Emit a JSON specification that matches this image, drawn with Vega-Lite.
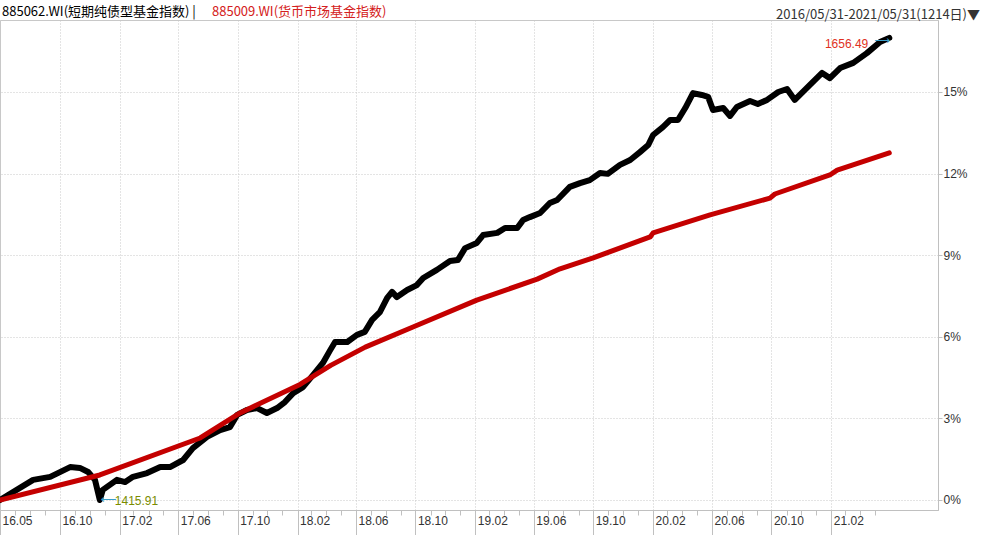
{
  "$schema": "https://vega.github.io/schema/vega-lite/v6.json",
  "width": 938,
  "height": 490,
  "autosize": {"type": "none"},
  "padding": {"left": 0, "top": 20, "right": 45, "bottom": 25},
  "background": "white",
  "config": {"view": {"stroke": "#c8c8c8"}, "font": "Liberation Sans"},
  "title": {"text": "2016/05/31-2021/05/31(1214日)▼", "anchor": "end", "orient": "top", "frame": "group", "dx": 42, "dy": 21, "offset": 4, "fontSize": 13, "fontWeight": "normal", "font": "Noto Sans CJK SC", "color": "#333333"},
  "data": {"values": [
    {"series": "885062.WI(短期纯债型基金指数)", "date": "2016-05-31", "pct": 0.0},
    {"series": "885062.WI(短期纯债型基金指数)", "date": "2016-08-07", "pct": 0.74},
    {"series": "885062.WI(短期纯债型基金指数)", "date": "2016-09-11", "pct": 0.85},
    {"series": "885062.WI(短期纯债型基金指数)", "date": "2016-10-22", "pct": 1.21},
    {"series": "885062.WI(短期纯债型基金指数)", "date": "2016-11-11", "pct": 1.18},
    {"series": "885062.WI(短期纯债型基金指数)", "date": "2016-11-28", "pct": 1.03},
    {"series": "885062.WI(短期纯债型基金指数)", "date": "2016-12-12", "pct": 0.74},
    {"series": "885062.WI(短期纯债型基金指数)", "date": "2016-12-22", "pct": 0.0, "note": "1415.91"},
    {"series": "885062.WI(短期纯债型基金指数)", "date": "2016-12-28", "pct": 0.37},
    {"series": "885062.WI(短期纯债型基金指数)", "date": "2017-01-26", "pct": 0.74},
    {"series": "885062.WI(短期纯债型基金指数)", "date": "2017-02-12", "pct": 0.66},
    {"series": "885062.WI(短期纯债型基金指数)", "date": "2017-02-28", "pct": 0.85},
    {"series": "885062.WI(短期纯债型基金指数)", "date": "2017-03-29", "pct": 0.99},
    {"series": "885062.WI(短期纯债型基金指数)", "date": "2017-04-25", "pct": 1.21},
    {"series": "885062.WI(短期纯债型基金指数)", "date": "2017-05-15", "pct": 1.21},
    {"series": "885062.WI(短期纯债型基金指数)", "date": "2017-06-11", "pct": 1.47},
    {"series": "885062.WI(短期纯债型基金指数)", "date": "2017-07-01", "pct": 1.91},
    {"series": "885062.WI(短期纯债型基金指数)", "date": "2017-07-30", "pct": 2.32},
    {"series": "885062.WI(短期纯债型基金指数)", "date": "2017-08-26", "pct": 2.57},
    {"series": "885062.WI(短期纯债型基金指数)", "date": "2017-09-15", "pct": 2.68},
    {"series": "885062.WI(短期纯债型基金指数)", "date": "2017-09-30", "pct": 3.13},
    {"series": "885062.WI(短期纯债型基金指数)", "date": "2017-10-20", "pct": 3.31},
    {"series": "885062.WI(短期纯债型基金指数)", "date": "2017-11-10", "pct": 3.38},
    {"series": "885062.WI(短期纯债型基金指数)", "date": "2017-11-30", "pct": 3.2},
    {"series": "885062.WI(短期纯债型基金指数)", "date": "2017-12-21", "pct": 3.38},
    {"series": "885062.WI(短期纯债型基金指数)", "date": "2018-01-06", "pct": 3.6},
    {"series": "885062.WI(短期纯债型基金指数)", "date": "2018-01-23", "pct": 3.93},
    {"series": "885062.WI(短期纯债型基金指数)", "date": "2018-02-12", "pct": 4.15},
    {"series": "885062.WI(短期纯债型基金指数)", "date": "2018-03-05", "pct": 4.6},
    {"series": "885062.WI(短期纯债型基金指数)", "date": "2018-03-25", "pct": 5.04},
    {"series": "885062.WI(短期纯债型基金指数)", "date": "2018-04-09", "pct": 5.51},
    {"series": "885062.WI(短期纯债型基金指数)", "date": "2018-04-19", "pct": 5.81},
    {"series": "885062.WI(短期纯债型基金指数)", "date": "2018-05-14", "pct": 5.81},
    {"series": "885062.WI(短期纯债型基金指数)", "date": "2018-06-03", "pct": 6.07},
    {"series": "885062.WI(短期纯债型基金指数)", "date": "2018-06-19", "pct": 6.18},
    {"series": "885062.WI(短期纯债型基金指数)", "date": "2018-07-04", "pct": 6.62},
    {"series": "885062.WI(短期纯债型基金指数)", "date": "2018-07-20", "pct": 6.91},
    {"series": "885062.WI(短期纯债型基金指数)", "date": "2018-08-04", "pct": 7.43},
    {"series": "885062.WI(短期纯债型基金指数)", "date": "2018-08-14", "pct": 7.65},
    {"series": "885062.WI(短期纯债型基金指数)", "date": "2018-08-24", "pct": 7.46},
    {"series": "885062.WI(短期纯债型基金指数)", "date": "2018-09-14", "pct": 7.72},
    {"series": "885062.WI(短期纯债型基金指数)", "date": "2018-10-04", "pct": 7.9},
    {"series": "885062.WI(短期纯债型基金指数)", "date": "2018-10-17", "pct": 8.16},
    {"series": "885062.WI(短期纯债型基金指数)", "date": "2018-11-14", "pct": 8.46},
    {"series": "885062.WI(短期纯债型基金指数)", "date": "2018-12-11", "pct": 8.79},
    {"series": "885062.WI(短期纯债型基金指数)", "date": "2018-12-27", "pct": 8.82},
    {"series": "885062.WI(短期纯债型基金指数)", "date": "2019-01-11", "pct": 9.26},
    {"series": "885062.WI(短期纯债型基金指数)", "date": "2019-02-04", "pct": 9.45},
    {"series": "885062.WI(短期纯债型基金指数)", "date": "2019-02-17", "pct": 9.74},
    {"series": "885062.WI(短期纯债型基金指数)", "date": "2019-03-18", "pct": 9.82},
    {"series": "885062.WI(短期纯债型基金指数)", "date": "2019-04-03", "pct": 10.0},
    {"series": "885062.WI(短期纯债型基金指数)", "date": "2019-04-28", "pct": 10.0},
    {"series": "885062.WI(短期纯债型基金指数)", "date": "2019-05-10", "pct": 10.29},
    {"series": "885062.WI(短期纯债型基金指数)", "date": "2019-05-24", "pct": 10.4},
    {"series": "885062.WI(短期纯债型基金指数)", "date": "2019-06-14", "pct": 10.55},
    {"series": "885062.WI(短期纯债型基金指数)", "date": "2019-07-04", "pct": 10.92},
    {"series": "885062.WI(短期纯债型基金指数)", "date": "2019-07-19", "pct": 11.03},
    {"series": "885062.WI(短期纯债型基金指数)", "date": "2019-08-14", "pct": 11.51},
    {"series": "885062.WI(短期纯债型基金指数)", "date": "2019-09-04", "pct": 11.65},
    {"series": "885062.WI(短期纯债型基金指数)", "date": "2019-09-24", "pct": 11.76},
    {"series": "885062.WI(短期纯债型基金指数)", "date": "2019-10-15", "pct": 12.02},
    {"series": "885062.WI(短期纯债型基金指数)", "date": "2019-10-31", "pct": 11.99},
    {"series": "885062.WI(短期纯债型基金指数)", "date": "2019-11-25", "pct": 12.32},
    {"series": "885062.WI(短期纯债型基金指数)", "date": "2019-12-16", "pct": 12.5},
    {"series": "885062.WI(短期纯债型基金指数)", "date": "2020-01-05", "pct": 12.79},
    {"series": "885062.WI(短期纯债型基金指数)", "date": "2020-01-22", "pct": 13.05},
    {"series": "885062.WI(短期纯债型基金指数)", "date": "2020-02-01", "pct": 13.42},
    {"series": "885062.WI(短期纯债型基金指数)", "date": "2020-02-21", "pct": 13.71},
    {"series": "885062.WI(短期纯债型基金指数)", "date": "2020-03-07", "pct": 13.97},
    {"series": "885062.WI(短期纯债型基金指数)", "date": "2020-03-23", "pct": 13.97},
    {"series": "885062.WI(短期纯债型基金指数)", "date": "2020-04-07", "pct": 14.41},
    {"series": "885062.WI(短期纯债型基金指数)", "date": "2020-04-23", "pct": 14.96},
    {"series": "885062.WI(短期纯债型基金指数)", "date": "2020-05-11", "pct": 14.89},
    {"series": "885062.WI(短期纯债型基金指数)", "date": "2020-05-24", "pct": 14.82},
    {"series": "885062.WI(短期纯债型基金指数)", "date": "2020-06-03", "pct": 14.34},
    {"series": "885062.WI(短期纯债型基金指数)", "date": "2020-06-24", "pct": 14.41},
    {"series": "885062.WI(短期纯债型基金指数)", "date": "2020-07-08", "pct": 14.12},
    {"series": "885062.WI(短期纯债型基金指数)", "date": "2020-07-22", "pct": 14.45},
    {"series": "885062.WI(短期纯债型基金指数)", "date": "2020-08-18", "pct": 14.67},
    {"series": "885062.WI(短期纯债型基金指数)", "date": "2020-09-03", "pct": 14.56},
    {"series": "885062.WI(短期纯债型基金指数)", "date": "2020-09-22", "pct": 14.71},
    {"series": "885062.WI(短期纯债型基金指数)", "date": "2020-10-15", "pct": 15.0},
    {"series": "885062.WI(短期纯债型基金指数)", "date": "2020-11-02", "pct": 15.11},
    {"series": "885062.WI(短期纯债型基金指数)", "date": "2020-11-18", "pct": 14.71},
    {"series": "885062.WI(短期纯债型基金指数)", "date": "2020-12-19", "pct": 15.26},
    {"series": "885062.WI(短期纯债型基金指数)", "date": "2021-01-13", "pct": 15.7},
    {"series": "885062.WI(短期纯债型基金指数)", "date": "2021-01-29", "pct": 15.51},
    {"series": "885062.WI(短期纯债型基金指数)", "date": "2021-02-19", "pct": 15.88},
    {"series": "885062.WI(短期纯债型基金指数)", "date": "2021-03-18", "pct": 16.07},
    {"series": "885062.WI(短期纯债型基金指数)", "date": "2021-04-15", "pct": 16.43},
    {"series": "885062.WI(短期纯债型基金指数)", "date": "2021-05-12", "pct": 16.84},
    {"series": "885062.WI(短期纯债型基金指数)", "date": "2021-05-31", "pct": 16.99, "note": "1656.49"},
    {"series": "885009.WI(货币市场基金指数)", "date": "2016-05-31", "pct": 0.0},
    {"series": "885009.WI(货币市场基金指数)", "date": "2016-12-22", "pct": 0.92},
    {"series": "885009.WI(货币市场基金指数)", "date": "2017-07-16", "pct": 2.28},
    {"series": "885009.WI(货币市场基金指数)", "date": "2017-10-06", "pct": 3.2},
    {"series": "885009.WI(货币市场基金指数)", "date": "2018-02-06", "pct": 4.25},
    {"series": "885009.WI(货币市场基金指数)", "date": "2018-04-10", "pct": 4.95},
    {"series": "885009.WI(货币市场基金指数)", "date": "2018-06-20", "pct": 5.62},
    {"series": "885009.WI(货币市场基金指数)", "date": "2018-09-26", "pct": 6.36},
    {"series": "885009.WI(货币市场基金指数)", "date": "2019-02-04", "pct": 7.35},
    {"series": "885009.WI(货币市场基金指数)", "date": "2019-06-08", "pct": 8.12},
    {"series": "885009.WI(货币市场基金指数)", "date": "2019-07-25", "pct": 8.5},
    {"series": "885009.WI(货币市场基金指数)", "date": "2019-10-01", "pct": 8.9},
    {"series": "885009.WI(货币市场基金指数)", "date": "2020-01-26", "pct": 9.67},
    {"series": "885009.WI(货币市场基金指数)", "date": "2020-02-01", "pct": 9.82},
    {"series": "885009.WI(货币市场基金指数)", "date": "2020-05-28", "pct": 10.48},
    {"series": "885009.WI(货币市场基金指数)", "date": "2020-09-28", "pct": 11.1},
    {"series": "885009.WI(货币市场基金指数)", "date": "2020-10-08", "pct": 11.25},
    {"series": "885009.WI(货币市场基金指数)", "date": "2021-01-29", "pct": 11.95},
    {"series": "885009.WI(货币市场基金指数)", "date": "2021-02-13", "pct": 12.13},
    {"series": "885009.WI(货币市场基金指数)", "date": "2021-05-31", "pct": 12.76}
  ]},
  "encoding": {
    "x": {
      "field": "date", "type": "temporal",
      "scale": {"type": "utc", "domain": [{"year": 2016, "month": 5, "date": 31, "utc": true}, {"year": 2021, "month": 9, "date": 8, "utc": true}]},
      "axis": {
        "title": null,
        "values": [
          {"year": 2016, "month": 5, "date": 31, "utc": true},
          {"year": 2016, "month": 7, "date": 1, "utc": true}, {"year": 2016, "month": 8, "date": 1, "utc": true}, {"year": 2016, "month": 9, "date": 1, "utc": true}, {"year": 2016, "month": 10, "date": 1, "utc": true}, {"year": 2016, "month": 11, "date": 1, "utc": true}, {"year": 2016, "month": 12, "date": 1, "utc": true},
          {"year": 2017, "month": 1, "date": 1, "utc": true}, {"year": 2017, "month": 2, "date": 1, "utc": true}, {"year": 2017, "month": 3, "date": 1, "utc": true}, {"year": 2017, "month": 4, "date": 1, "utc": true}, {"year": 2017, "month": 5, "date": 1, "utc": true}, {"year": 2017, "month": 6, "date": 1, "utc": true}, {"year": 2017, "month": 7, "date": 1, "utc": true}, {"year": 2017, "month": 8, "date": 1, "utc": true}, {"year": 2017, "month": 9, "date": 1, "utc": true}, {"year": 2017, "month": 10, "date": 1, "utc": true}, {"year": 2017, "month": 11, "date": 1, "utc": true}, {"year": 2017, "month": 12, "date": 1, "utc": true},
          {"year": 2018, "month": 1, "date": 1, "utc": true}, {"year": 2018, "month": 2, "date": 1, "utc": true}, {"year": 2018, "month": 3, "date": 1, "utc": true}, {"year": 2018, "month": 4, "date": 1, "utc": true}, {"year": 2018, "month": 5, "date": 1, "utc": true}, {"year": 2018, "month": 6, "date": 1, "utc": true}, {"year": 2018, "month": 7, "date": 1, "utc": true}, {"year": 2018, "month": 8, "date": 1, "utc": true}, {"year": 2018, "month": 9, "date": 1, "utc": true}, {"year": 2018, "month": 10, "date": 1, "utc": true}, {"year": 2018, "month": 11, "date": 1, "utc": true}, {"year": 2018, "month": 12, "date": 1, "utc": true},
          {"year": 2019, "month": 1, "date": 1, "utc": true}, {"year": 2019, "month": 2, "date": 1, "utc": true}, {"year": 2019, "month": 3, "date": 1, "utc": true}, {"year": 2019, "month": 4, "date": 1, "utc": true}, {"year": 2019, "month": 5, "date": 1, "utc": true}, {"year": 2019, "month": 6, "date": 1, "utc": true}, {"year": 2019, "month": 7, "date": 1, "utc": true}, {"year": 2019, "month": 8, "date": 1, "utc": true}, {"year": 2019, "month": 9, "date": 1, "utc": true}, {"year": 2019, "month": 10, "date": 1, "utc": true}, {"year": 2019, "month": 11, "date": 1, "utc": true}, {"year": 2019, "month": 12, "date": 1, "utc": true},
          {"year": 2020, "month": 1, "date": 1, "utc": true}, {"year": 2020, "month": 2, "date": 1, "utc": true}, {"year": 2020, "month": 3, "date": 1, "utc": true}, {"year": 2020, "month": 4, "date": 1, "utc": true}, {"year": 2020, "month": 5, "date": 1, "utc": true}, {"year": 2020, "month": 6, "date": 1, "utc": true}, {"year": 2020, "month": 7, "date": 1, "utc": true}, {"year": 2020, "month": 8, "date": 1, "utc": true}, {"year": 2020, "month": 9, "date": 1, "utc": true}, {"year": 2020, "month": 10, "date": 1, "utc": true}, {"year": 2020, "month": 11, "date": 1, "utc": true}, {"year": 2020, "month": 12, "date": 1, "utc": true},
          {"year": 2021, "month": 1, "date": 1, "utc": true}, {"year": 2021, "month": 2, "date": 1, "utc": true}, {"year": 2021, "month": 3, "date": 1, "utc": true}, {"year": 2021, "month": 4, "date": 1, "utc": true}, {"year": 2021, "month": 5, "date": 1, "utc": true}
        ],
        "labelExpr": "(utcdate(datum.value) != 1 || indexof([1,5,9], utcmonth(datum.value)) >= 0) ? utcFormat(datum.value, '%y.%m') : ''",
        "labelAlign": "left", "labelBaseline": "middle", "labelPadding": -15, "labelOffset": 2,
        "labelColor": "#333333", "labelFontSize": 12, "labelOverlap": false, "labelFlush": false, "labelBound": false,
        "domainColor": "#c0c0c0",
        "tickColor": "#c0c0c0",
        "tickSize": {"condition": {"test": "utcdate(datum.value) != 1 || indexof([1,5,9], utcmonth(datum.value)) >= 0", "value": 25}, "value": 5},
        "grid": true,
        "gridColor": "#c8c8c8",
        "gridDash": [1, 2],
        "gridOpacity": {"condition": {"test": "utcdate(datum.value) != 1 || indexof([1,5,9], utcmonth(datum.value)) >= 0", "value": 1}, "value": 0}
      }
    },
    "y": {
      "field": "pct", "type": "quantitative",
      "scale": {"domain": [-0.368, 17.647], "nice": false, "zero": false},
      "axis": {
        "orient": "right", "title": null, "values": [0, 3, 6, 9, 12, 15],
        "labelExpr": "datum.value + '%'",
        "tickSize": 4, "tickColor": "#c0c0c0", "domainColor": "#c0c0c0",
        "labelColor": "#333333", "labelFontSize": 12, "labelPadding": 1, "labelBaseline": "middle",
        "grid": true, "gridColor": "#c8c8c8", "gridDash": [1, 2]
      }
    }
  },
  "layer": [
    {
      "transform": [{"filter": "datum.series == '885062.WI(短期纯债型基金指数)'"}],
      "mark": {"type": "line", "strokeWidth": 6, "strokeJoin": "round", "strokeCap": "round"},
      "encoding": {
        "color": {
          "field": "series", "type": "nominal",
          "scale": {"domain": ["885062.WI(短期纯债型基金指数)", "885009.WI(货币市场基金指数)"], "range": ["#000000", "#c40000"]},
          "legend": {
            "orient": "none", "legendX": -13, "legendY": -15, "direction": "horizontal", "title": null,
            "symbolSize": 0, "symbolStrokeWidth": 0, "symbolOpacity": 0, "labelOffset": 2, "columnPadding": 1,
            "labelFont": "Noto Sans CJK SC", "labelFontSize": 13, "labelLimit": 400,
            "labelColor": {"expr": "datum.value == '885009.WI(货币市场基金指数)' ? '#d42020' : '#000000'"},
            "labelExpr": "datum.value == '885062.WI(短期纯债型基金指数)' ? datum.label + ' |' : datum.label"
          }
        }
      }
    },
    {
      "transform": [{"filter": "datum.series == '885009.WI(货币市场基金指数)'"}],
      "mark": {"type": "line", "strokeWidth": 5, "strokeJoin": "round", "strokeCap": "round"},
      "encoding": {
        "color": {
          "field": "series", "type": "nominal",
          "scale": {"domain": ["885062.WI(短期纯债型基金指数)", "885009.WI(货币市场基金指数)"], "range": ["#000000", "#c40000"]},
          "legend": {
            "orient": "none", "legendX": -13, "legendY": -15, "direction": "horizontal", "title": null,
            "symbolSize": 0, "symbolStrokeWidth": 0, "symbolOpacity": 0, "labelOffset": 2, "columnPadding": 1,
            "labelFont": "Noto Sans CJK SC", "labelFontSize": 13, "labelLimit": 400,
            "labelColor": {"expr": "datum.value == '885009.WI(货币市场基金指数)' ? '#d42020' : '#000000'"},
            "labelExpr": "datum.value == '885062.WI(短期纯债型基金指数)' ? datum.label + ' |' : datum.label"
          }
        }
      }
    },
    {
      "transform": [{"filter": "datum.note == '1415.91'"}],
      "mark": {"type": "text", "align": "left", "baseline": "middle", "dx": 15, "dy": 1, "color": "#7a8c00", "fontSize": 12, "font": "Liberation Sans"},
      "encoding": {"text": {"field": "note"}}
    },
    {
      "transform": [{"filter": "datum.note == '1415.91'"}],
      "mark": {"type": "text", "text": "⟵", "align": "left", "baseline": "middle", "dx": 1, "dy": 0, "color": "#3a9ec8", "fontSize": 11, "font": "DejaVu Sans"},
      "encoding": {}
    },
    {
      "transform": [{"filter": "datum.note == '1656.49'"}],
      "mark": {"type": "text", "align": "right", "baseline": "middle", "dx": -21, "dy": 6, "color": "#e0301e", "fontSize": 12, "font": "Liberation Sans"},
      "encoding": {"text": {"field": "note"}}
    },
    {
      "transform": [{"filter": "datum.note == '1656.49'"}],
      "mark": {"type": "text", "text": "⟶", "align": "right", "baseline": "middle", "dx": 1, "dy": 3, "color": "#3a9ec8", "fontSize": 11, "font": "DejaVu Sans"},
      "encoding": {}
    }
  ]
}
